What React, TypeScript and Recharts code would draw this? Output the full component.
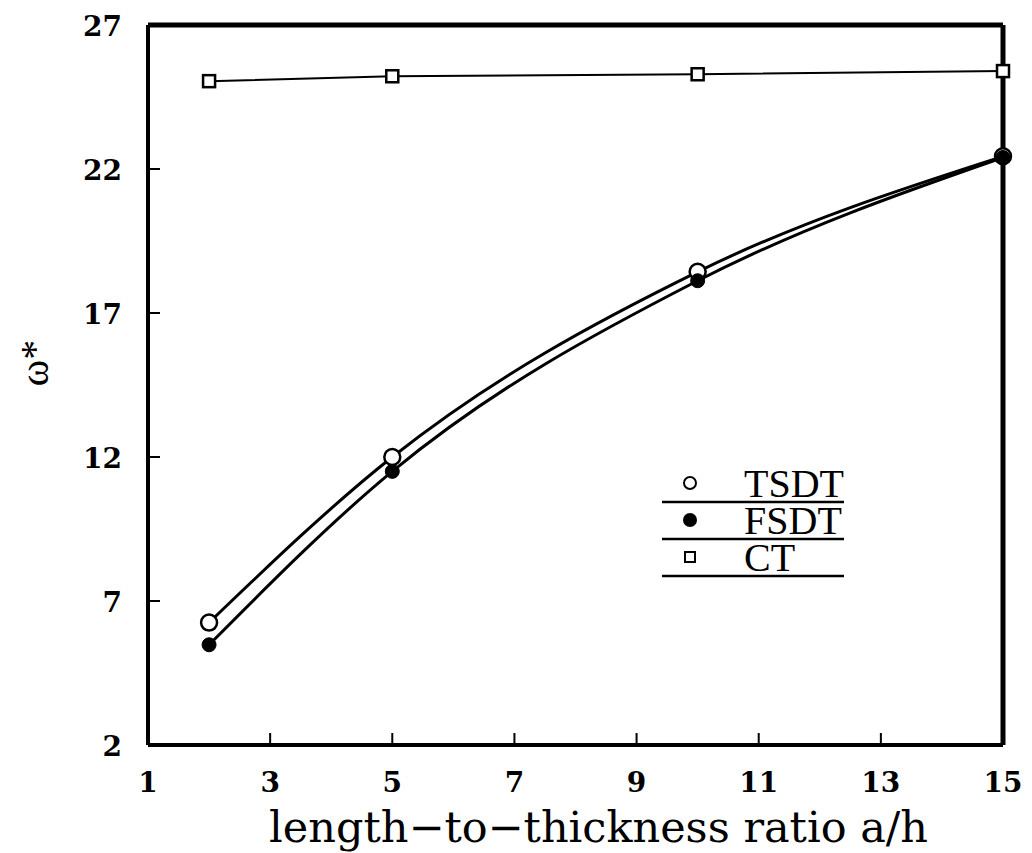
import { LineChart, Line, XAxis, YAxis, ReferenceLine, Label } from "recharts";

// a/h values where each theory was evaluated
const ratios = [2, 5, 10, 15];
// nondimensional frequency
const tsdt = [6.25, 12.0, 18.43, 22.44];
const fsdt = [5.48, 11.5, 18.12, 22.4];
const ct = [25.05, 25.22, 25.29, 25.4];

const xTicks = [1, 3, 5, 7, 9, 11, 13, 15];
const yTicks = [2, 7, 12, 17, 22, 27];

const legendItems = [
  { name: "TSDT", marker: "open" },
  { name: "FSDT", marker: "filled" },
  { name: "CT", marker: "square" },
];

const data = ratios.map((r, i) => ({ r, tsdt: tsdt[i], fsdt: fsdt[i], ct: ct[i] }));

const FONT = "'Liberation Serif', 'DejaVu Serif', serif";
const WIDE = "'DejaVu Serif', serif";

const OpenDot = (props: any) => {
  const { cx, cy } = props;
  return <circle cx={cx} cy={cy} r={8} fill="#fff" stroke="#000" strokeWidth={2.5} />;
};
const FilledDot = (props: any) => {
  const { cx, cy } = props;
  return <circle cx={cx} cy={cy} r={7} fill="#000" stroke="#000" strokeWidth={1} />;
};
const SquareDot = (props: any) => {
  const { cx, cy } = props;
  return <rect x={cx - 6} y={cy - 6} width={12} height={12} fill="#fff" stroke="#000" strokeWidth={2.5} />;
};

const XTick = (props: any) => {
  const { x, payload } = props;
  return (
    <text x={x} y={792} textAnchor="middle" fontFamily={WIDE} fontSize={28} fontWeight="bold" fill="#000">
      {payload.value}
    </text>
  );
};
const YTick = (props: any) => {
  const { y, payload } = props;
  return (
    <text x={122} y={y + 11} textAnchor="end" fontFamily={WIDE} fontSize={28} fontWeight="bold" fill="#000">
      {payload.value}
    </text>
  );
};

function LegendBox() {
  return (
    <svg width={190} height={125} style={{ position: "absolute", left: 660, top: 461 }}>
      {legendItems.map((it, i) => {
        const cy = 22 + i * 37;
        return (
          <g key={it.name}>
            {it.marker === "open" && <circle cx={30} cy={cy} r={6} fill="#fff" stroke="#000" strokeWidth={2} />}
            {it.marker === "filled" && <circle cx={30} cy={cy} r={7} fill="#000" />}
            {it.marker === "square" && <rect x={25} y={cy - 5} width={10} height={10} fill="#fff" stroke="#000" strokeWidth={2} />}
            <text x={84} y={cy + 14} fontFamily={FONT} fontSize={40} fill="#000">
              {it.name}
            </text>
            <line x1={2} x2={184} y1={cy + 19} y2={cy + 19} stroke="#000" strokeWidth={2.5} />
          </g>
        );
      })}
    </svg>
  );
}

export default function App() {
  return (
    <div style={{ position: "absolute", left: 0, top: 0, width: 1032, height: 853, background: "#fff" }}>
      <LineChart width={1032} height={853} data={data} margin={{ top: 25, right: 29, bottom: 0, left: 0 }}>
        <XAxis
          dataKey="r"
          type="number"
          domain={[1, 15]}
          ticks={xTicks}
          height={108}
          axisLine={{ stroke: "#000", strokeWidth: 4 }}
          tickLine={{ stroke: "#000", strokeWidth: 2 }}
          tickSize={-12}
          tick={<XTick />}
        >
          <Label
            content={({ viewBox }: any) => (
              <text
                x={viewBox.x + viewBox.width / 2 + 23}
                y={842}
                textAnchor="middle"
                fontFamily={WIDE}
                fontSize={43}
                fill="#000"
              >
                length−to−thickness ratio a/h
              </text>
            )}
          />
        </XAxis>
        <YAxis
          type="number"
          domain={[2, 27]}
          ticks={yTicks}
          width={148}
          axisLine={{ stroke: "#000", strokeWidth: 4 }}
          tickLine={{ stroke: "#000", strokeWidth: 2 }}
          tickSize={-12}
          tick={<YTick />}
        >
          <Label
            content={({ viewBox }: any) => {
              const cy = viewBox.y + viewBox.height / 2 - 22;
              return (
                <text
                  x={34}
                  y={cy}
                  transform={`rotate(-90 34 ${cy})`}
                  textAnchor="middle"
                  dominantBaseline="central"
                  fontFamily={FONT}
                  fontSize={40}
                  fill="#000"
                >
                  ω*
                </text>
              );
            }}
          />
        </YAxis>
        <ReferenceLine y={27} stroke="#000" strokeWidth={5} />
        <ReferenceLine x={15} stroke="#000" strokeWidth={5} />
        <Line dataKey="ct" stroke="#000" strokeWidth={2} dot={<SquareDot />} isAnimationActive={false} />
        <Line
          dataKey="tsdt"
          type="monotone"
          stroke="#000"
          strokeWidth={3}
          dot={<OpenDot />}
          isAnimationActive={false}
        />
        <Line
          dataKey="fsdt"
          type="monotone"
          stroke="#000"
          strokeWidth={3}
          dot={<FilledDot />}
          isAnimationActive={false}
        />
      </LineChart>
      <LegendBox />
    </div>
  );
}
